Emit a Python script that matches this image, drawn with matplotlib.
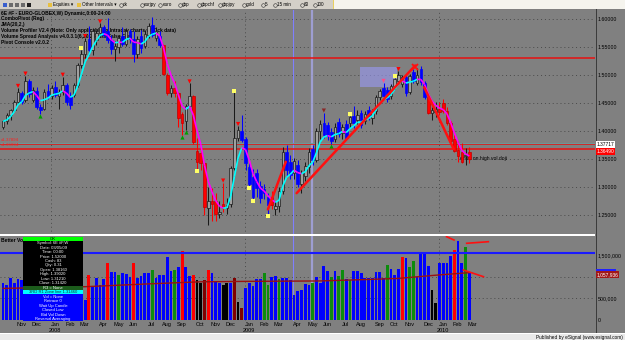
import numpy as np
import pandas as pd
import matplotlib
matplotlib.use("Agg")
import matplotlib.pyplot as plt
from matplotlib.collections import LineCollection
from matplotlib.patches import Rectangle
from matplotlib.lines import Line2D

plt.rcParams['font.family'] = ['Liberation Sans', 'DejaVu Sans']

# ---- 6E #F weekly bars, week of 2007-10-08 .. week of 2010-03-01
first_week = "2007-10-08"

opens = [1.407, 1.417, 1.428, 1.437, 1.452, 1.468, 1.455, 1.490, 1.456, 1.472,
         1.443, 1.440, 1.472, 1.462, 1.478, 1.462, 1.470, 1.482, 1.462, 1.465,
         1.482, 1.518, 1.538, 1.565, 1.545, 1.562, 1.575, 1.585, 1.578, 1.562,
         1.546, 1.550, 1.570, 1.556, 1.578, 1.565, 1.538, 1.570, 1.552, 1.572,
         1.590, 1.566, 1.570, 1.553, 1.500, 1.467, 1.476, 1.467, 1.430, 1.418,
         1.445, 1.462, 1.365, 1.360, 1.343, 1.262, 1.275, 1.275, 1.252, 1.270,
         1.262, 1.270, 1.334, 1.388, 1.400, 1.385, 1.335, 1.318, 1.325, 1.302,
         1.296, 1.283, 1.282, 1.260, 1.266, 1.292, 1.362, 1.345, 1.325, 1.340,
         1.305, 1.320, 1.335, 1.368, 1.348, 1.400, 1.414, 1.410, 1.398, 1.385,
         1.416, 1.396, 1.413, 1.414, 1.426, 1.419, 1.432, 1.418, 1.438, 1.424,
         1.435, 1.460, 1.477, 1.474, 1.462, 1.480, 1.490, 1.484, 1.496, 1.470,
         1.505, 1.486, 1.510, 1.486, 1.460, 1.432, 1.434, 1.440, 1.450, 1.435,
         1.414, 1.385, 1.366, 1.362, 1.356, 1.362]
highs = [1.420, 1.433, 1.440, 1.455, 1.477, 1.472, 1.499, 1.493, 1.478, 1.478,
         1.448, 1.475, 1.484, 1.482, 1.490, 1.475, 1.497, 1.485, 1.470, 1.486,
         1.522, 1.545, 1.566, 1.588, 1.584, 1.580, 1.592, 1.590, 1.602, 1.572,
         1.560, 1.572, 1.585, 1.584, 1.582, 1.578, 1.570, 1.580, 1.580, 1.592,
         1.603, 1.585, 1.578, 1.556, 1.503, 1.482, 1.490, 1.470, 1.434, 1.448,
         1.485, 1.465, 1.388, 1.372, 1.345, 1.300, 1.298, 1.290, 1.275, 1.308,
         1.280, 1.337, 1.469, 1.409, 1.428, 1.390, 1.342, 1.332, 1.332, 1.310,
         1.305, 1.290, 1.292, 1.275, 1.300, 1.372, 1.375, 1.358, 1.352, 1.348,
         1.330, 1.345, 1.370, 1.375, 1.405, 1.420, 1.433, 1.416, 1.406, 1.414,
         1.424, 1.412, 1.420, 1.427, 1.444, 1.438, 1.438, 1.435, 1.445, 1.440,
         1.465, 1.475, 1.486, 1.478, 1.484, 1.495, 1.507, 1.500, 1.500, 1.502,
         1.510, 1.512, 1.516, 1.490, 1.466, 1.442, 1.452, 1.452, 1.457, 1.442,
         1.418, 1.398, 1.382, 1.378, 1.370, 1.372]
lows = [1.403, 1.412, 1.420, 1.435, 1.448, 1.448, 1.452, 1.460, 1.452, 1.439,
        1.431, 1.437, 1.458, 1.458, 1.460, 1.440, 1.465, 1.447, 1.440, 1.460,
        1.478, 1.512, 1.530, 1.535, 1.536, 1.553, 1.568, 1.568, 1.557, 1.538,
        1.525, 1.540, 1.552, 1.552, 1.558, 1.524, 1.530, 1.540, 1.548, 1.566,
        1.568, 1.560, 1.550, 1.500, 1.465, 1.460, 1.460, 1.407, 1.392, 1.402,
        1.440, 1.376, 1.332, 1.330, 1.250, 1.233, 1.240, 1.240, 1.245, 1.255,
        1.252, 1.265, 1.330, 1.382, 1.380, 1.330, 1.302, 1.278, 1.282, 1.272,
        1.278, 1.252, 1.260, 1.250, 1.255, 1.288, 1.320, 1.315, 1.315, 1.300,
        1.290, 1.310, 1.325, 1.340, 1.345, 1.385, 1.388, 1.384, 1.376, 1.380,
        1.390, 1.385, 1.385, 1.405, 1.405, 1.412, 1.405, 1.412, 1.420, 1.412,
        1.430, 1.455, 1.458, 1.451, 1.458, 1.475, 1.484, 1.478, 1.462, 1.466,
        1.485, 1.482, 1.482, 1.458, 1.430, 1.420, 1.425, 1.428, 1.432, 1.410,
        1.380, 1.362, 1.345, 1.342, 1.340, 1.342]
closes = [1.417, 1.428, 1.437, 1.452, 1.470, 1.452, 1.490, 1.466, 1.474, 1.443,
          1.438, 1.470, 1.462, 1.476, 1.464, 1.470, 1.482, 1.452, 1.446, 1.482,
          1.518, 1.538, 1.560, 1.545, 1.578, 1.575, 1.585, 1.572, 1.562, 1.546,
          1.552, 1.566, 1.556, 1.578, 1.565, 1.538, 1.565, 1.548, 1.574, 1.588,
          1.572, 1.578, 1.553, 1.502, 1.468, 1.476, 1.467, 1.423, 1.414, 1.444,
          1.462, 1.380, 1.345, 1.343, 1.265, 1.275, 1.270, 1.252, 1.255, 1.262,
          1.268, 1.334, 1.388, 1.402, 1.384, 1.342, 1.305, 1.282, 1.298, 1.280,
          1.290, 1.268, 1.268, 1.266, 1.292, 1.362, 1.330, 1.322, 1.346, 1.306,
          1.325, 1.338, 1.362, 1.348, 1.400, 1.412, 1.393, 1.391, 1.382, 1.408,
          1.394, 1.408, 1.388, 1.425, 1.414, 1.428, 1.410, 1.430, 1.426, 1.436,
          1.461, 1.471, 1.462, 1.458, 1.480, 1.492, 1.500, 1.496, 1.468, 1.498,
          1.490, 1.500, 1.488, 1.460, 1.432, 1.437, 1.440, 1.434, 1.436, 1.414,
          1.382, 1.364, 1.355, 1.345, 1.357, 1.350]
# g = up bar (hollow), b = down bar, r = weakness bar (VSA paint)
bar_kind = list("gggggbgbgb" "bgbgbggbbg" "gggbgggbbb" "ggbgbbgbgg"
                "bgbrrgrrrg" "grrrrgrrgr" "ggggbbbbbb" "bbrgggbbgb"
                "gggbggbbbg" "bgbgbgbgbg" "ggbbggggbg" "bgbbrggrrr" "rrrrgr")

# volume in thousands of contracts
volume_k = [865, 810, 966, 849, 943, 927, 1010, 960, 890, 1050,
            1120, 720, 640, 900, 1000, 1150, 1180, 1060, 940, 1010,
            1160, 1240, 458, 1045, 771, 966, 810, 943, 1318, 1123,
            1123, 1045, 1084, 1060, 1006, 1318, 966, 1021, 1084, 1084,
            1162, 966, 1045, 1045, 1475, 1138, 1162, 1224, 1610, 1240,
            1021, 1045, 927, 849, 927, 1162, 1084, 888, 849, 810,
            849, 849, 966, 418, 270, 731, 849, 786, 943, 943,
            1099, 810, 1006, 1021, 943, 966, 966, 927, 575, 677,
            692, 833, 810, 849, 990, 849, 1256, 1146, 990, 1146,
            1021, 1162, 943, 927, 1138, 1138, 1099, 966, 966, 982,
            1123, 1123, 966, 1279, 1177, 1045, 1177, 1475, 1436, 1240,
            1373, 1006, 1553, 1553, 1256, 692, 395, 1318, 1318, 1334,
            1498, 1631, 1854, 1318, 1694, 1084]
# Better Volume colours: b normal, r climax, g churn, k low volume, m climax+churn
vol_kind = list("bbbbbbbbbb" "bbbbbbbbbb" "bbbrbbbbrb" "bgbbbrbbbb"
                "gbbbbbgbrb" "brkkmrbbbk" "kbmkmbbbbb" "ggbbgbbbbb"
                "bbbgbbbbgb" "ggbgbbbbbb" "bbbgbbbrbg" "gbbbbkkbbb" "brbbgb")

vol_avg_bars = [0, 22, 40, 53, 65, 85, 98, 106, 116, 122, 125]
vol_avg_k = [730, 770, 840, 885, 895, 905, 940, 965, 1040, 1080, 1100]
vol_level_k = 1568

# ComboPivot marks
swing_hi = [4, 6, 16, 22, 26, 50, 59, 63, 86, 102, 106]
swing_lo = [10, 48, 49, 88]
pivot_hi = [21, 62, 93, 105]
pivot_lo = [52, 66, 67, 71]

red_levels = [1.5295, 1.3772, 1.3684]
cyan_level = 1.3790

# hand drawn trend lines (bar, price)
trend_lines = [((71.0, 1.260), (75.8, 1.345)),
               ((78.7, 1.289), (110.5, 1.517)),
               ((112.9, 1.478), (120.8, 1.368))]

W, H = 625, 340
def fx(px): return px / W
def fy(py): return 1 - py / H

GRAY = '#808080'
fig = plt.figure(figsize=(6.25, 3.4), dpi=100, facecolor=GRAY)
ax = fig.add_axes([0, fy(234.5), fx(595), (234.5 - 9.5) / H], facecolor=GRAY)
axv = fig.add_axes([0, fy(321), fx(595), (321 - 235.5) / H], facecolor=GRAY)

n = len(closes)
x = np.arange(n)
o, h, l, c = (np.array(v) for v in (opens, highs, lows, closes))
dates = pd.date_range(first_week, periods=n, freq="7D")
XL = (-0.83, 158.7)

for a in (ax, axv):
    a.set_xlim(*XL)
    for s in a.spines.values():
        s.set_visible(False)

# ----- price panel
ax.set_ylim(1.21518, 1.61696)
for p in np.arange(1.25, 1.601, 0.05):
    ax.axhline(p, color='#4a4a4a', lw=0.7, ls=(0, (1, 3)), zorder=1)

new_month = [i for i in range(1, n) if dates[i].month != dates[i - 1].month]
year_start = [i for i in new_month if dates[i].month == 1]
for a in (ax, axv):
    for i in year_start:
        a.axvline(i - 0.2, color='#4a4a4a', lw=0.7, ls=(0, (1, 3)), zorder=1)
    a.axvline(77.7, color='#7f7fff', lw=0.8, zorder=1.5)
    a.axvline(82.8, color='#a6a6e6', lw=1.6, alpha=0.8, zorder=1.5)

ax.add_patch(Rectangle((95.7, 1.479), 9.8, 0.0357, fc='#9a9af5', ec='none',
                       alpha=0.6, zorder=2))

for lv in red_levels:
    ax.axhline(lv, color='#e81010', lw=1.1, zorder=2.5)
ax.axhline(cyan_level, color='#40c8c8', lw=0.5, zorder=2.5)

style = {'g': ('#a0a0a0', '#1a1a1a', '#1a1a1a'),
         'b': ('#0000ff', '#0000ff', '#0000ff'),
         'r': ('#ff0000', '#c00000', '#ff0000')}
kinds = np.array(bar_kind)
for k, (fc, ec, wc) in style.items():
    m = kinds == k
    ax.vlines(x[m], l[m], h[m], color=wc, lw=0.75, zorder=3)
    body = np.maximum(np.abs(c[m] - o[m]), 0.0009)
    ax.bar(x[m], body, bottom=np.minimum(o[m], c[m]), width=0.7, color=fc,
           edgecolor=ec, linewidth=0.5, zorder=3.5)

# JMA(20,2) style smoother, cyan while rising, magenta while falling
sm = pd.Series(c)
for _ in range(3):
    sm = sm.ewm(alpha=0.65, adjust=False).mean()
jma = sm.to_numpy()
segs = [[(i, jma[i]), (i + 1, jma[i + 1])] for i in range(n - 1)]
cols = ['#00ffff' if jma[i + 1] >= jma[i] else '#ff00ff' for i in range(n - 1)]
ax.add_collection(LineCollection(segs, colors=cols, linewidths=1.2, zorder=4))

hi_col = {86: '#8b2525', 102: '#ff4d88'}
ax.scatter(swing_hi, h[swing_hi] + 0.0035, marker='v', s=9, linewidths=0,
           c=[hi_col.get(i, '#ff0000') for i in swing_hi], zorder=5)
ax.scatter(swing_lo, l[swing_lo] - 0.0035, marker='^', s=9, linewidths=0,
           c='#00a000', zorder=5)
ax.scatter(pivot_hi, h[pivot_hi] + 0.003, marker='s', s=7, linewidths=0,
           c='#ffff66', zorder=5)
ax.scatter(pivot_lo, l[pivot_lo] - 0.003, marker='s', s=7, linewidths=0,
           c='#ffff66', zorder=5)

for (x0, y0), (x1, y1) in trend_lines:
    ax.plot([x0, x1], [y0, y1], color='#ff1010', lw=1.8,
            solid_capstyle='round', zorder=6)
ax.plot(110.4, 1.515, marker='x', ms=4, mew=1.3, color='#ff1010', zorder=6)

ax.text(122.6, 1.350, "entry on high vol doji", fontsize=3.6, color='black',
        va='center', ha='left', zorder=2.8)

ax.yaxis.tick_right()
ax.set_yticks(np.arange(1.25, 1.601, 0.05))
ax.set_yticklabels(["%.5f" % p for p in np.arange(1.25, 1.601, 0.05)])
ax.tick_params(axis='y', length=0, pad=2, labelsize=3.8, labelcolor='black')
ax.set_xticks([])

studies = ["6E #F - EURO-GLOBEX,W) Dynamic,0:00-24:00",
           "ComboPivot (Reg)",
           "JMA(20,2,)",
           "Volume Profiler V2.4 (Note: Only applicable to Intraday charts w/ Tick data)",
           "Volume Spread Analysis v4.0.3.1(6,20,2,False,False,Fsa)",
           "Pivot Console v2.0.2"]
for k, s in enumerate(studies):
    ax.text(fx(1), fy(13 + 5.8 * k), s, transform=fig.transFigure, fontsize=3.5,
            fontweight='bold', color='black', va='center', ha='left', zorder=2.6)
ax.text(fx(1), fy(140), "x1.37894", transform=fig.transFigure, fontsize=3.2,
        color='#ff2020', va='center', zorder=2.6)
ax.text(fx(1), fy(145.5), "x1.36994", transform=fig.transFigure, fontsize=3.2,
        color='#ff2020', va='center', zorder=2.6)

# ----- volume panel
V = np.array(volume_k) * 1000
axv.set_ylim(-35200, 1971800)
for v in (500000, 1000000):
    axv.axhline(v, color='#4a4a4a', lw=0.7, ls=(0, (1, 3)), zorder=1)
vcol = {'b': '#0000ff', 'r': '#ff0000', 'g': '#0c8c0c', 'k': '#000000', 'm': '#800000'}
axv.bar(x, V, width=0.74, color=[vcol[k] for k in vol_kind], zorder=3)
axv.axhline(vol_level_k * 1000, color='#1a1aff', lw=1.5, zorder=3.5)
axv.plot(vol_avg_bars, np.array(vol_avg_k) * 1000, color='#9a1010', lw=1.0, zorder=4)
for (x0, y0), (x1, y1) in [((118.9, 1944e3), (120.9, 1866e3)),
                           ((124.3, 1789e3), (130.1, 1826e3)),
                           ((123.4, 1162e3), (128.8, 1005e3))]:
    axv.plot([x0, x1], [y0, y1], color='#ff1010', lw=1.2, zorder=6, clip_on=False)

axv.yaxis.tick_right()
axv.set_yticks([0, 500000, 1500000])
axv.set_yticklabels(["0", "500,000", "1,500,000"])
axv.tick_params(axis='y', length=0, pad=2, labelsize=3.8, labelcolor='black')
tick_pos = [i + 0.9 for i in new_month]
tick_lab = [dates[i].strftime('%b') + ("\n%d" % dates[i].year if dates[i].month == 1 else "")
            for i in new_month]
axv.set_xticks(tick_pos)
axv.set_xticklabels(tick_lab, linespacing=1.15)
axv.tick_params(axis='x', length=0, pad=0.8, labelsize=4, labelcolor='black')
for t in axv.get_xticklabels():
    t.set_verticalalignment('top')
axv.text(fx(1), fy(240), "Better Volume", transform=fig.transFigure, fontsize=3.6,
         fontweight='bold', color='black', va='center', zorder=2)

# ----- window chrome
def frect(x0, y0, x1, y1, color, z=10):
    fig.add_artist(Rectangle((fx(x0), fy(y1)), (x1 - x0) / W, (y1 - y0) / H,
                             transform=fig.transFigure, fc=color, ec='none', zorder=z))

frect(0, 0, 333, 9.3, '#d4d0c8')
frect(333, 0, 625, 9.3, '#f5f4ee')
for xi, col in [(3, '#3a5fcd'), (9, '#6b6b6b'), (15, '#6b6b6b'), (21, '#6b6b6b'),
                (27, '#202020'), (48, '#e8c040'), (77, '#e8c040')]:
    frect(xi, 2.5, xi + 4, 6.5, col, z=11)
fig.text(fx(53), fy(4.7), "Equities \u25be", fontsize=3.3, va='center', zorder=12)
fig.text(fx(82), fy(4.7), "Other Intervals \u25be", fontsize=3.3, va='center', zorder=12)
for xi, s in [(119, "dx"), (140, "eurjpy"), (159, "euro"), (178, "gbp"), (197, "gbpchf"),
              (218, "gbpjpy"), (242, "gold"), (261, "5"), (273, "15 min"), (300, "60"),
              (313, "100")]:
    fig.add_artist(Line2D([fx(xi + 1.5)], [fy(4.7)], marker='o', ms=2.6, mfc='none',
                          mec='#303030', mew=0.4, transform=fig.transFigure, zorder=12))
    fig.text(fx(xi + 4), fy(4.7), s, fontsize=3.3, va='center', zorder=12)
frect(333, 0, 334, 9.3, '#e8d060', z=11)

frect(0, 234.3, 595, 235.5, '#ffffff', z=3)
fig.add_artist(Line2D([fx(595.5)] * 2, [fy(9.3), fy(333)], color='#3a3a3a', lw=0.7,
                      transform=fig.transFigure, zorder=3))
frect(0, 333, 625, 334, '#ffffff')
frect(0, 334, 625, 340, '#e9e9e9')
fig.text(fx(623), fy(337), "Published by eSignal (www.esignal.com)", fontsize=3.4,
         ha='right', va='center', zorder=12)

# price / volume flags on the right scale
fig.text(fx(596.5), fy(144.2), "1.37717", fontsize=3.5, color='black', va='center',
         zorder=12, bbox=dict(fc='white', ec='none', pad=0.7))
fig.text(fx(596.5), fy(151.5), "1.36490", fontsize=3.5, color='white', va='center',
         zorder=12, bbox=dict(fc='#ff0000', ec='none', pad=0.7))
frect(595.5, 268.7, 616, 273, '#2020ff', z=11)
fig.text(fx(596.5), fy(274.3), "1,057,936", fontsize=3.5, color='white', va='center',
         zorder=12, bbox=dict(fc='#a01818', ec='none', pad=0.7))

# data window box over the volume pane
frect(23.3, 236.7, 82.7, 241, '#00ff00', z=13)
frect(23.3, 241, 82.7, 286, '#000000', z=13)
frect(23.3, 286, 82.7, 290, '#1c5c1c', z=13)
frect(23.3, 290, 82.7, 294.3, '#00ffff', z=13)
frect(23.3, 294.3, 82.7, 321, '#0000ff', z=13)
fig.text(fx(53), fy(238.9), "OK", fontsize=3, ha='center', va='center', zorder=14)
info = ["Symbol: 6E #F,W", "Date: 03/05/09", "Time: 00:00", "Price: 1.52000", "Cash: 83",
        "Qty: 0.31", "Open: 1.38160", "High: 1.39020", "Low: 1.31210", "Close: 1.31420"]
for k, s in enumerate(info):
    fig.text(fx(53), fy(243.3 + 4.4 * k), s, fontsize=3, color='white', ha='center',
             va='center', zorder=14)
fig.text(fx(53), fy(288), "R3 = None", fontsize=3, color='white', ha='center',
         va='center', zorder=14)
fig.text(fx(53), fy(292.2), "3RD R1 Zone line 1.31460", fontsize=3, color='#103030',
         ha='center', va='center', zorder=14)
for k, s in enumerate(["Vol = None", "Retrace 0", "Wait Up Candle", "Closed Low",
                       "Bid Vol Down", "Reversal Averaging"]):
    fig.text(fx(53), fy(297 + 4.4 * k), s, fontsize=3, color='white', ha='center',
             va='center', zorder=14)

fig.savefig("out.png", dpi=100, facecolor=GRAY)
